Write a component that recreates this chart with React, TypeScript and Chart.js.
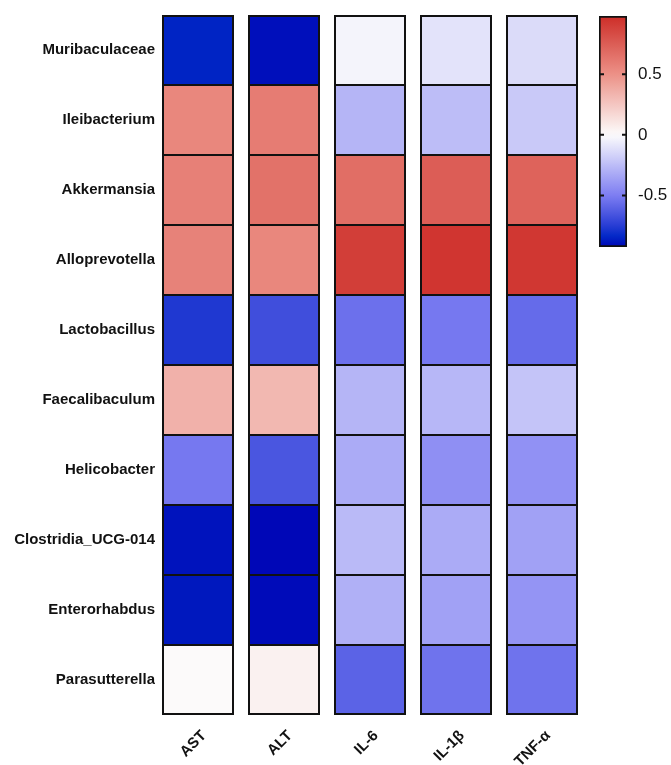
import React, { useEffect, useRef } from "react";
import { Chart, registerables } from "chart.js";
Chart.register(...registerables);

// ---- data ----
const genera = [
  "Muribaculaceae",
  "Ileibacterium",
  "Akkermansia",
  "Alloprevotella",
  "Lactobacillus",
  "Faecalibaculum",
  "Helicobacter",
  "Clostridia_UCG-014",
  "Enterorhabdus",
  "Parasutterella",
];
const markers = ["AST", "ALT", "IL-6", "IL-1β", "TNF-α"];
const astValues = [-0.85, 0.55, 0.58, 0.57, -0.77, 0.35, -0.52, -0.89, -0.88, 0.01];
const altValues = [-0.9, 0.6, 0.65, 0.55, -0.68, 0.32, -0.65, -0.92, -0.91, 0.05];
const il6Values = [-0.03, -0.28, 0.67, 0.9, -0.55, -0.28, -0.32, -0.26, -0.3, -0.6];
const il1bValues = [-0.1, -0.25, 0.75, 0.94, -0.52, -0.27, -0.43, -0.32, -0.36, -0.54];
const tnfaValues = [-0.13, -0.2, 0.72, 0.93, -0.57, -0.22, -0.42, -0.36, -0.41, -0.54];
const colorbarTicks = [-0.5, 0, 0.5];
const CB_MIN = -0.925;
const CB_MAX = 0.98;

// ---- colormap (style) ----
const cmapStops: [number, number[]][] = [
  [-0.925, [0, 5, 182]],
  [-0.84, [0, 40, 198]],
  [-0.75, [40, 60, 212]],
  [-0.5, [125, 125, 242]],
  [0, [252, 252, 252]],
  [0.5, [236, 145, 135]],
  [0.98, [205, 45, 40]],
];
function colorFor(v: number): string {
  const s = cmapStops;
  if (v <= s[0][0]) return `rgb(${s[0][1].join(",")})`;
  for (let i = 0; i < s.length - 1; i++) {
    const [a, ca] = s[i];
    const [b, cb] = s[i + 1];
    if (v <= b) {
      const t = (v - a) / (b - a);
      const c = ca.map((x, k) => Math.round(x + (cb[k] - x) * t));
      return `rgb(${c.join(",")})`;
    }
  }
  return `rgb(${s[s.length - 1][1].join(",")})`;
}

const FONT = "'Liberation Sans', Arial, Helvetica, sans-serif";

export default function App() {
  const mainRef = useRef<HTMLCanvasElement>(null);
  const cbRef = useRef<HTMLCanvasElement>(null);

  useEffect(() => {
    const columns = [astValues, altValues, il6Values, il1bValues, tnfaValues];
    const datasets = genera.map((g, i) => ({
      label: g,
      data: markers.map(() => 1),
      backgroundColor: columns.map((col) => colorFor(col[i])),
      borderColor: "#111",
      borderWidth: {
        left: 2,
        right: 2,
        top: i === 0 ? 2 : 1,
        bottom: i === genera.length - 1 ? 2 : 1,
      },
      borderSkipped: false as any,
      barPercentage: 1,
      categoryPercentage: 72 / 86,
    }));

    const main = new Chart(mainRef.current!, {
      type: "bar",
      data: { labels: markers, datasets },
      options: {
        responsive: false,
        animation: false,
        layout: { padding: { top: 15, right: 86, left: 0, bottom: 0 } },
        plugins: { legend: { display: false }, tooltip: { enabled: false } },
        scales: {
          x: {
            stacked: true,
            grid: { display: false, drawTicks: false },
            border: { display: false },
            ticks: {
              color: "#111",
              font: { family: FONT, size: 15, weight: "bold" },
              maxRotation: 45,
              minRotation: 45,
              padding: 12,
              labelOffset: 6,
            },
            afterFit: (s: any) => {
              s.height = 50;
              s.paddingLeft = 0;
              s.paddingRight = 0;
            },
          },
          y: {
            type: "linear",
            stacked: true,
            min: 0,
            max: genera.length,
            reverse: true,
            grid: { display: false, drawTicks: false },
            border: { display: false },
            afterBuildTicks: (s: any) => {
              s.ticks = genera.map((_, i) => ({ value: i + 0.5 }));
            },
            ticks: {
              autoSkip: false,
              color: "#111",
              font: { family: FONT, size: 15, weight: "bold" },
              padding: 0,
              callback: (v: any) => genera[Math.floor(Number(v))],
            },
            afterFit: (s: any) => {
              s.width = 155;
              s.paddingTop = 0;
              s.paddingBottom = 0;
            },
          },
        },
      },
    });

    const tickMarks = {
      id: "cbTickMarks",
      afterDatasetsDraw(chart: any) {
        const { ctx, chartArea } = chart;
        const ys = chart.scales.y;
        ctx.save();
        ctx.strokeStyle = "#111";
        ctx.lineWidth = 2;
        for (const t of colorbarTicks) {
          const y = ys.getPixelForValue(t);
          ctx.beginPath();
          ctx.moveTo(chartArea.left, y);
          ctx.lineTo(chartArea.left + 5, y);
          ctx.moveTo(chartArea.right - 5, y);
          ctx.lineTo(chartArea.right, y);
          ctx.stroke();
        }
        ctx.restore();
      },
    };

    const cb = new Chart(cbRef.current!, {
      type: "bar",
      data: {
        labels: [""],
        datasets: [
          {
            data: [[CB_MIN, CB_MAX]] as any,
            backgroundColor: (c: any) => {
              const chart = c.chart;
              if (!chart.chartArea) return "#fff";
              const ys = chart.scales.y;
              const y0 = ys.getPixelForValue(CB_MIN);
              const y1 = ys.getPixelForValue(CB_MAX);
              const g = chart.ctx.createLinearGradient(0, y0, 0, y1);
              const n = 40;
              for (let k = 0; k <= n; k++) {
                const v = CB_MIN + ((CB_MAX - CB_MIN) * k) / n;
                g.addColorStop(k / n, colorFor(v));
              }
              return g;
            },
            borderColor: "#111",
            borderWidth: 2,
            borderSkipped: false as any,
            barPercentage: 1,
            categoryPercentage: 1,
          },
        ],
      },
      options: {
        responsive: false,
        animation: false,
        layout: { padding: { left: 9, top: 16, bottom: 13, right: 0 } },
        plugins: { legend: { display: false }, tooltip: { enabled: false } },
        scales: {
          x: { display: false },
          y: {
            position: "right",
            min: CB_MIN,
            max: CB_MAX,
            grid: { display: false, drawTicks: false },
            border: { display: false },
            afterBuildTicks: (s: any) => {
              s.ticks = colorbarTicks.map((v) => ({ value: v }));
            },
            ticks: {
              color: "#111",
              font: { family: FONT, size: 17 },
              padding: 11,
              callback: (v: any) => String(v),
            },
            afterFit: (s: any) => {
              s.width = 44;
              s.paddingTop = 0;
              s.paddingBottom = 0;
            },
          },
        },
      },
      plugins: [tickMarks],
    });

    return () => {
      main.destroy();
      cb.destroy();
    };
  }, []);

  return (
    <div style={{ position: "absolute", left: 0, top: 0, width: 671, height: 765, background: "#fff", overflow: "hidden" }}>
      <canvas ref={mainRef} width={671} height={765} style={{ position: "absolute", left: 0, top: 0, width: 671, height: 765 }} />
      <canvas ref={cbRef} width={81} height={260} style={{ position: "absolute", left: 590, top: 0, width: 81, height: 260 }} />
    </div>
  );
}
